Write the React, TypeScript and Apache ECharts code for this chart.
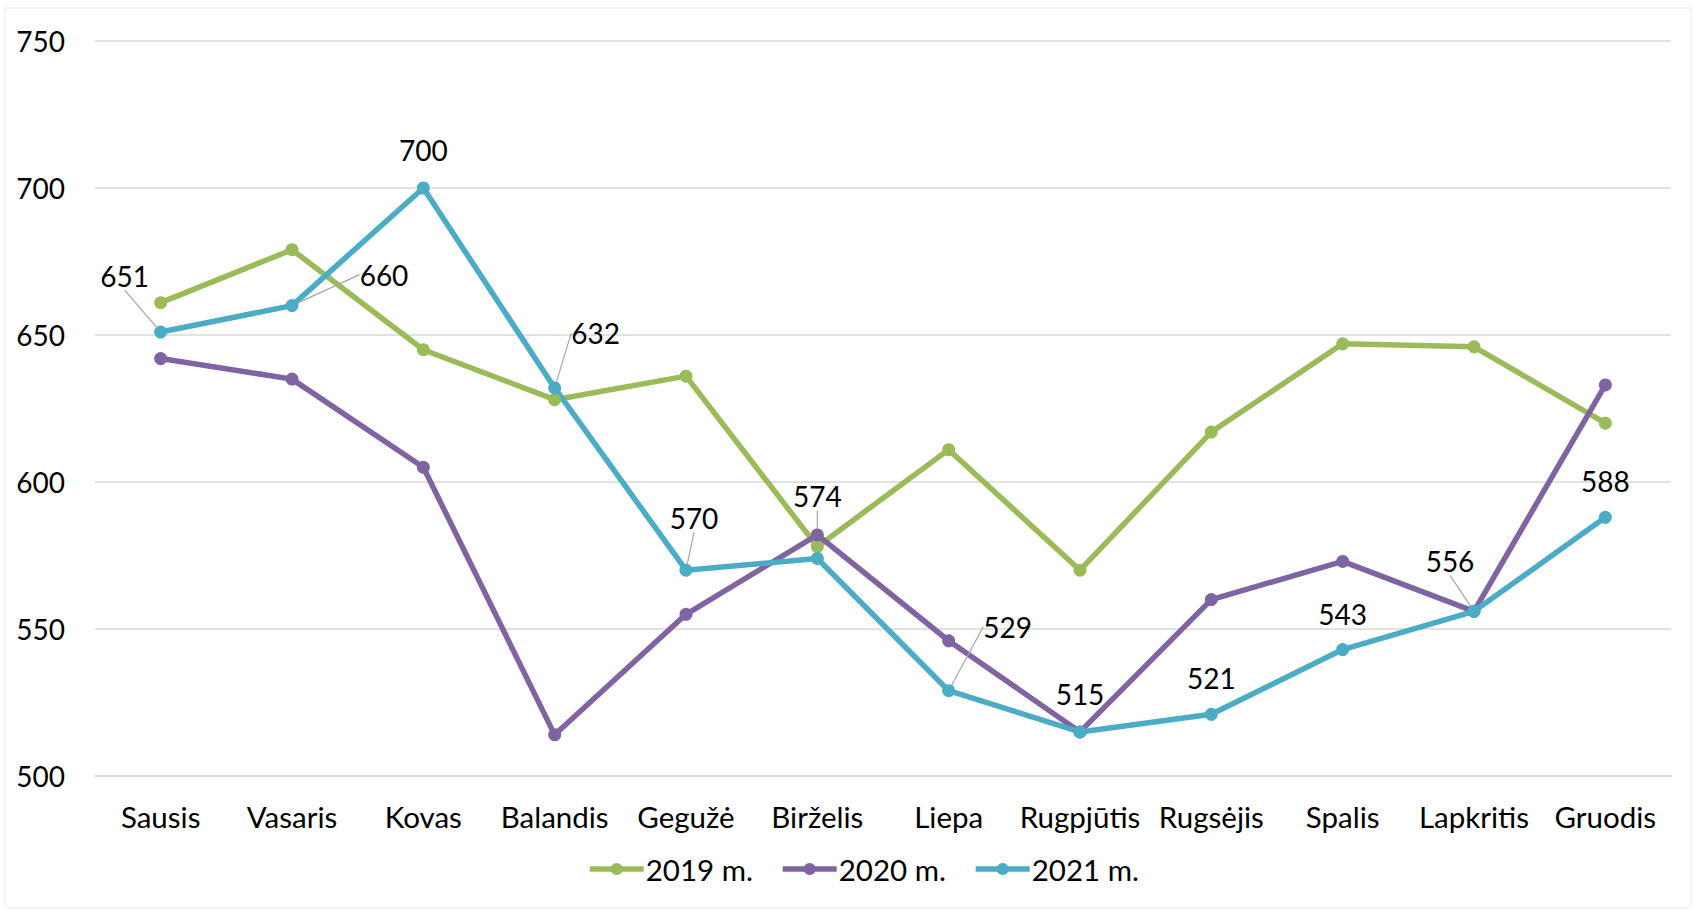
import React, { useEffect, useRef } from "react";
import * as echarts from "echarts";

const months = ["Sausis", "Vasaris", "Kovas", "Balandis", "Gegužė", "Birželis", "Liepa", "Rugpjūtis", "Rugsėjis", "Spalis", "Lapkritis", "Gruodis"];
const seriesNames = ["2019 m.", "2020 m.", "2021 m."];
const values2019 = [661, 679, 645, 628, 636, 578, 611, 570, 617, 647, 646, 620];
const values2020 = [642, 635, 605, 514, 555, 582, 546, 515, 560, 573, 556, 633];
const values2021 = [651, 660, 700, 632, 570, 574, 529, 515, 521, 543, 556, 588];
const colors = ["#9BBB59", "#8064A2", "#4BACC6"];

// label placement for 2021 data labels (dx, dy from point) and whether a leader line is drawn
const labelOffsets: [number, number][] = [
  [-36, -56], [92, -31], [0, -38], [41, -55], [8, -52], [0, -62],
  [59, -64], [0, -38], [0, -36], [0, -36], [-24, -50], [0, -36],
];
const leaderShown = [true, true, false, true, true, true, true, false, false, false, true, false];

const FONT = "Lato";

export default function App() {
  const ref = useRef<HTMLDivElement>(null);
  useEffect(() => {
    document.body.style.margin = "0";
    const chart = echarts.init(ref.current!, null, { renderer: "svg" });
    const lineSeries = (name: string, data: any[], color: string, extra: any = {}) => ({
      name,
      type: "line",
      data,
      symbol: "circle",
      symbolSize: 13,
      lineStyle: { color, width: 5.5 },
      itemStyle: { color },
      ...extra,
    });
    chart.setOption({
      animation: false,
      backgroundColor: "#ffffff",
      textStyle: { fontFamily: FONT },
      grid: { left: 95, right: 25, top: 41, bottom: 137 },
      xAxis: {
        type: "category",
        data: months,
        boundaryGap: true,
        axisLine: { show: true, lineStyle: { color: "#d9d9d9", width: 1.5 } },
        axisTick: { show: false },
        axisLabel: { color: "#000", fontSize: 29.5, fontFamily: FONT, margin: 25, interval: 0 },
      },
      yAxis: {
        type: "value",
        min: 500,
        max: 750,
        interval: 50,
        axisLine: { show: false },
        axisTick: { show: false },
        axisLabel: { color: "#000", fontSize: 28, fontFamily: FONT, margin: 30 },
        splitLine: { lineStyle: { color: "#d9d9d9", width: 1.5 } },
      },
      legend: {
        data: seriesNames,
        bottom: 24,
        left: 582,
        itemWidth: 54,
        itemHeight: 15,
        itemGap: 27,
        lineStyle: { width: 5.5 },
        textStyle: { color: "#000", fontSize: 29.5, fontFamily: FONT, padding: [0, 0, 0, -3] },
      },
      graphic: [
        {
          type: "rect",
          shape: { x: 5, y: 8, width: 1686, height: 900 },
          style: { fill: "none", stroke: "#ececec", lineWidth: 1 },
          silent: true,
        },
      ],
      series: [
        lineSeries(seriesNames[0], values2019, colors[0]),
        lineSeries(seriesNames[1], values2020, colors[1]),
        lineSeries(
          seriesNames[2],
          values2021.map((v, i) => ({ value: v, labelLine: { show: leaderShown[i] } })),
          colors[2],
          {
            label: {
              show: true,
              position: "inside",
              color: "#000",
              fontSize: 28,
              fontFamily: FONT,
            },
            labelLine: { show: false, lineStyle: { color: "#a6a6a6", width: 1.2 } },
            labelLayout: (p: any) => {
              const o = labelOffsets[p.dataIndex];
              return { dx: o[0], dy: o[1] };
            },
          }
        ),
      ],
    });
    return () => chart.dispose();
  }, []);
  return <div ref={ref} style={{ width: 1696, height: 913 }} />;
}
